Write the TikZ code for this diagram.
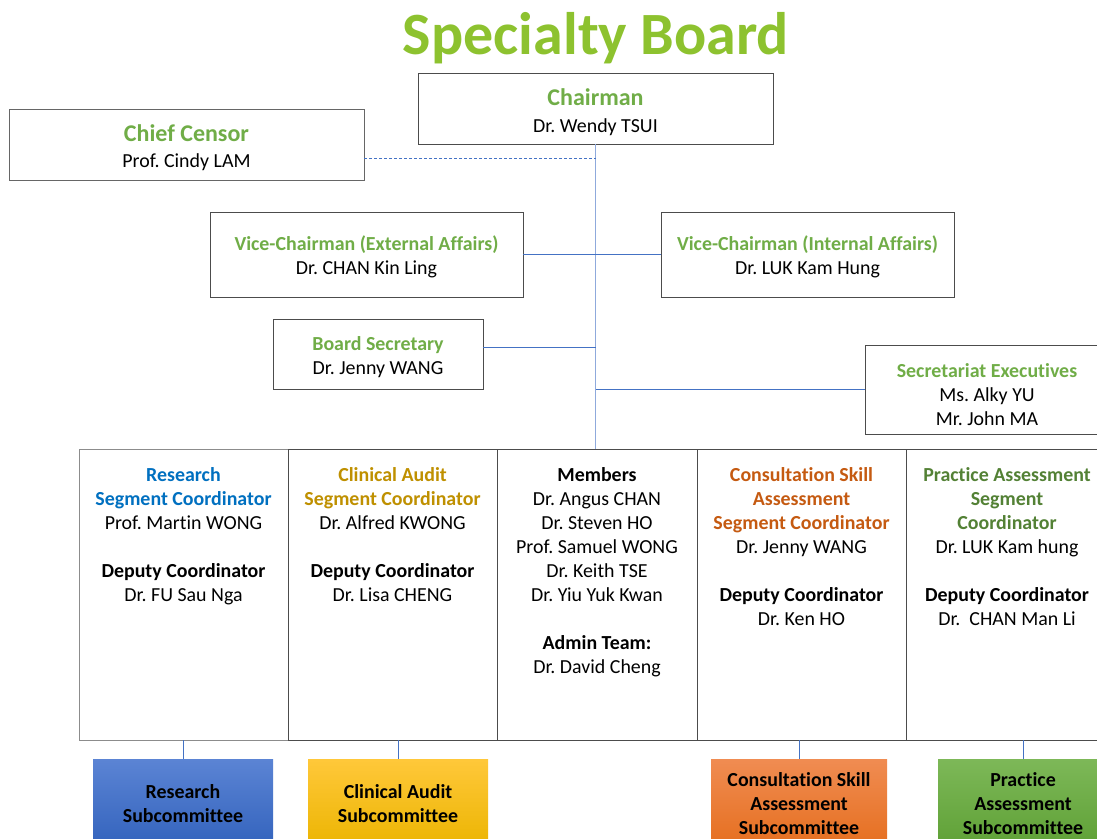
\documentclass[tikz,border=0pt]{standalone}
\usepackage{fontspec}
\setmainfont{Carlito}[Ligatures={NoCommon}]
\frenchspacing
\definecolor{titlegreen}{HTML}{8DC22F}
\definecolor{hdrgreen}{HTML}{70AD47}
\definecolor{resblue}{HTML}{0070C0}
\definecolor{audgold}{HTML}{BF9000}
\definecolor{conorange}{HTML}{C55A11}
\definecolor{pradgreen}{HTML}{538135}
\definecolor{connblue}{HTML}{4472C4}
\definecolor{lightconn}{HTML}{8FAADC}
\definecolor{restop}{HTML}{5B84D4}
\definecolor{resbot}{HTML}{3262BC}
\definecolor{audtop}{HTML}{FFC83A}
\definecolor{audbot}{HTML}{EBB400}
\definecolor{contop}{HTML}{F08C52}
\definecolor{conbot}{HTML}{E56E1E}
\definecolor{pratop}{HTML}{7DB858}
\definecolor{prabot}{HTML}{5EA035}
\begin{document}
\begin{tikzpicture}[x=1pt,y=-1pt,
  box/.style={draw=black!70, line width=0.8pt, fill=white, inner sep=0pt, align=center,
    font=\fontsize{19.9}{24}\selectfont},
  txt/.style={inner sep=0pt, align=center, font=\fontsize{19.9}{24}\selectfont},
  sub/.style={inner sep=0pt, align=center, text=black, font=\fontsize{19.9}{24}\selectfont\bfseries,
    minimum height=90pt},
  conn/.style={draw=connblue, line width=0.8pt}
]
\useasboundingbox (0,0) rectangle (1097,838);
\clip (0,0) rectangle (1097,838);
% title
\node[inner sep=0pt, text=titlegreen, font=\fontsize{60}{64}\selectfont\bfseries] (title) at (596,38) {Specialty Board};

% chairman and chief censor
\node[box, minimum width=355pt, minimum height=71pt] (chair) at (595.5,108.5) {};
\node[txt] (chairtxt) at (595.5,112)
  {{\fontsize{24}{28}\selectfont\bfseries\color{hdrgreen}Chairman}\\[2.5pt]Dr. Wendy TSUI};
\node[box, draw=black!60, minimum width=355pt, minimum height=71pt] (censor) at (186.5,144.5) {};
\node[txt] (censortxt) at (186.5,147.5)
  {{\fontsize{24}{28}\selectfont\bfseries\color{hdrgreen}Chief Censor}\\[2pt]Prof. Cindy LAM};

% members column (anchor for trunk)
\node[box, minimum width=200pt, minimum height=291pt] (members) at (597,594.5) {};

% trunk
\draw[draw=lightconn, line width=0.8pt] (chair.south) -- (chair.south |- members.north);
\draw[conn, dashed, dash pattern=on 3pt off 2pt] (censor.east |- 0,158) coordinate (cc) -- (cc -| chair.south);

% vice chairmen
\node[box, minimum width=313pt, minimum height=85pt] (vcext) at (366.5,254.5) {};
\node[txt] (vcexttxt) at (366.5,257)
  {{\bfseries\color{hdrgreen}Vice-Chairman (External Affairs)}\\Dr. CHAN Kin Ling};
\node[box, minimum width=293pt, minimum height=85pt] (vcint) at (807.5,254.5) {};
\node[txt] (vcinttxt) at (807.5,257)
  {{\bfseries\color{hdrgreen}Vice-Chairman (Internal Affairs)}\\Dr. LUK Kam Hung};
\draw[conn] (vcext.east) -- (vcext.east -| chair.south);
\draw[conn] (vcint.west) -- (vcint.west -| chair.south);

% secretary
\node[box, minimum width=210pt, minimum height=70pt] (sec) at (378,354) {};
\node[txt] (sectxt) at (378,357)
  {{\bfseries\color{hdrgreen}Board Secretary}\\Dr. Jenny WANG};
\draw[conn] (sec.east |- 0,347) coordinate (sc) -- (sc -| chair.south);

% secretariat executives
\node[box, minimum width=250pt, minimum height=89pt] (secexe) at (990,389.5) {};
\node[txt, anchor=center] (secexetxt) at (987,395)
  {{\bfseries\color{hdrgreen}Secretariat Executives}\\Ms. Alky YU\\Mr. John MA};
\draw[conn] (secexe.west) -- (secexe.west -| chair.south);

% columns
\node[box, draw=black!45, minimum width=209pt, minimum height=291pt] (colres) at (183.5,594.5) {};
\node[box, minimum width=209pt, minimum height=291pt] (colaud) at (392.5,594.5) {};
\node[box, minimum width=209pt, minimum height=291pt] (colcon) at (801.5,594.5) {};
\node[box, minimum width=209pt, minimum height=291pt] (colpra) at (1010.5,594.5) {};
\node[box, minimum width=200pt, minimum height=291pt] (members2) at (597,594.5) {};

\node[txt, anchor=north] (tres) at (183.5,467)
  {{\bfseries\color{resblue}Research}\\{\bfseries\color{resblue}Segment Coordinator}\\Prof. Martin WONG\\[24pt]{\bfseries Deputy Coordinator}\\Dr. FU Sau Nga};
\node[txt, anchor=north] (taud) at (392.5,467)
  {{\bfseries\color{audgold}Clinical Audit}\\{\bfseries\color{audgold}Segment Coordinator}\\Dr. Alfred KWONG\\[24pt]{\bfseries Deputy Coordinator}\\Dr. Lisa CHENG};
\node[txt, anchor=north] (tmem) at (597,467)
  {{\bfseries Members}\\Dr. Angus CHAN\\Dr. Steven HO\\Prof. Samuel WONG\\Dr. Keith TSE\\Dr. Yiu Yuk Kwan\\[24pt]{\bfseries Admin Team:}\\Dr. David Cheng};
\node[txt, anchor=north] (tcon) at (801.5,467)
  {{\bfseries\color{conorange}Consultation Skill}\\{\bfseries\color{conorange}Assessment}\\{\bfseries\color{conorange}Segment Coordinator}\\Dr. Jenny WANG\\[24pt]{\bfseries Deputy Coordinator}\\Dr. Ken HO};
\node[txt, anchor=north] (tpra) at (1007,467)
  {{\bfseries\color{pradgreen}Practice Assessment}\\{\bfseries\color{pradgreen}Segment}\\{\bfseries\color{pradgreen}Coordinator}\\Dr. LUK Kam hung\\[24pt]{\bfseries Deputy Coordinator}\\Dr.\ \ CHAN Man Li};

% subcommittees
\node[sub, minimum width=180pt, top color=restop, bottom color=resbot] (sres) at (183,804) {Research\\Subcommittee};
\node[sub, minimum width=180pt, top color=audtop, bottom color=audbot] (saud) at (398,804) {Clinical Audit\\Subcommittee};
\node[sub, minimum width=176pt, top color=contop, bottom color=conbot] (scon) at (799,804) {Consultation Skill\\Assessment\\Subcommittee};
\node[sub, minimum width=170pt, top color=pratop, bottom color=prabot] (spra) at (1023,804) {Practice\\Assessment\\Subcommittee};

\draw[conn] (sres.north) -- (sres.north |- colres.south);
\draw[conn] (saud.north) -- (saud.north |- colaud.south);
\draw[conn] (scon.north) -- (scon.north |- colcon.south);
\draw[conn] (spra.north) -- (spra.north |- colpra.south);
\end{tikzpicture}
\end{document}
